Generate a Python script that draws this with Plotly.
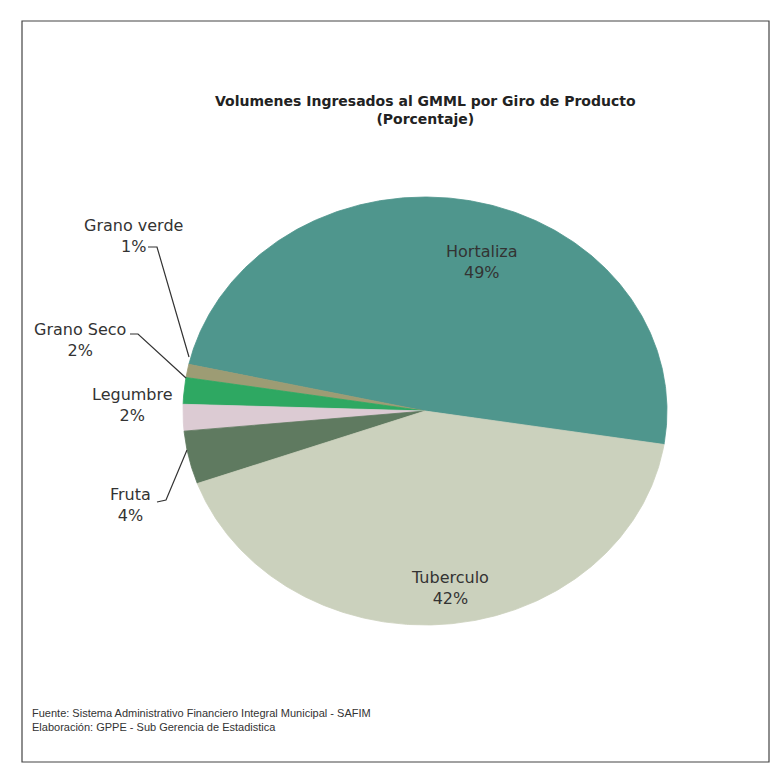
import numpy as np
import plotly.graph_objects as go

# Data
categories = ["Hortaliza", "Grano verde", "Grano Seco", "Legumbre", "Fruta", "Tuberculo"]
values = [49, 1, 2, 2, 4, 42]
colors = ["#4f968d", "#9d9c74", "#2ea862", "#dccbd3", "#5f7a60", "#cbd1bd"]

W, H = 779, 772
OFF = 8  # default page body margin
cx, cy = 425, 411
rx, ry = 242, 214
start_deg = -9.0

fig = go.Figure()

total = sum(values)
ang = start_deg
for cat, v, col in zip(categories, values, colors):
    span = 360.0 * v / total
    t = np.radians(np.linspace(ang, ang + span, max(8, int(span * 2))))
    xs = np.concatenate([[cx], cx + rx * np.cos(t), [cx]])
    ys = np.concatenate([[cy], cy - ry * np.sin(t), [cy]])
    fig.add_trace(go.Scatter(x=xs, y=ys, mode="lines", fill="toself",
                             fillcolor=col, line=dict(color=col, width=0.8),
                             name=cat, hoverinfo="name", showlegend=False))
    ang += span

# Inside labels
fnt = dict(family="DejaVu Sans", size=16, color="#333333")
fig.add_annotation(x=482, y=262, text=f"{categories[0]}<br>{values[0]}%", showarrow=False,
                   font=fnt, xref="x", yref="y")
fig.add_annotation(x=450, y=588, text=f"{categories[5]}<br>{values[5]}%", showarrow=False,
                   font=fnt, xref="x", yref="y")

# Outside labels with leader lines
outside = [
    (1, 133, 236, [(148, 247), (157, 247), (189, 357)]),
    (2, 80, 340, [(130, 334), (138, 334), (186, 378)]),
    (3, 132, 405, None),
    (4, 130, 505, [(157, 502), (166, 500), (187, 450)]),
]
for idx, lx, ly, pts in outside:
    fig.add_annotation(x=lx, y=ly, text=f"{categories[idx]}<br>{values[idx]}%", showarrow=False,
                       font=fnt, xref="x", yref="y")
    if pts:
        fig.add_trace(go.Scatter(x=[p[0] for p in pts], y=[p[1] for p in pts], mode="lines",
                                 line=dict(color="#333333", width=1.2), hoverinfo="skip",
                                 showlegend=False))

# Title
fig.add_annotation(x=425, y=110, text="<b>Volumenes Ingresados al GMML por Giro de Producto<br>(Porcentaje)</b>",
                   showarrow=False, font=dict(family="DejaVu Sans", size=14, color="#222222"),
                   xref="x", yref="y")

# Footer
fig.add_annotation(x=30, y=720, text="Fuente: Sistema Administrativo Financiero Integral Municipal - SAFIM<br>Elaboración: GPPE - Sub Gerencia de Estadistica",
                   showarrow=False, xanchor="left", align="left",
                   font=dict(family="Liberation Sans, Arial", size=11, color="#333333"),
                   xref="x", yref="y")

# Frame
fig.add_shape(type="rect", x0=22, y0=21, x1=769, y1=762, xref="x", yref="y",
              line=dict(color="#444444", width=1.2))

fig.update_layout(
    width=W - 2 * OFF, height=H - 2 * OFF, margin=dict(l=0, r=0, t=0, b=0),
    paper_bgcolor="white", plot_bgcolor="white",
    xaxis=dict(range=[OFF, W - OFF], visible=False, fixedrange=True),
    yaxis=dict(range=[H - OFF, OFF], visible=False, fixedrange=True),
)

fig.write_html("out.html")
